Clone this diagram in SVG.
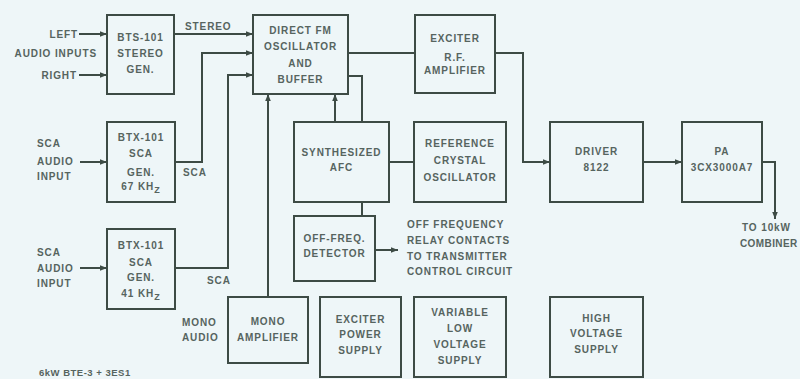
<svg xmlns="http://www.w3.org/2000/svg" width="800" height="379" viewBox="0 0 800 379">
<defs>
<marker id="arr" viewBox="0 0 10 10" refX="10" refY="5" markerWidth="7" markerHeight="7" markerUnits="userSpaceOnUse" orient="auto">
<path d="M0,1 L10,5 L0,9 z" fill="#3d4b45"/>
</marker>
<style>
.box{fill:none;stroke:#3d4b45;stroke-width:2}
.ln{fill:none;stroke:#3d4b45;stroke-width:2}
.a{marker-end:url(#arr)}
text{font-family:"Liberation Sans",Arial,sans-serif;font-weight:bold;font-size:10px;fill:#56645f;letter-spacing:0.9px}
.c{text-anchor:middle}
.r{text-anchor:end}
</style>
</defs>
<rect width="800" height="379" fill="#eef6f8"/>

<g id="connectors">
<path class="ln a" d="M79,34 H107"/>
<path class="ln a" d="M79,75 H107"/>
<path class="ln a" d="M174,34 H253"/>
<path class="ln a" d="M175,162 H202 V53 H253"/>
<path class="ln a" d="M175,268 H228 V75 H253"/>
<path class="ln a" d="M80,162 H107"/>
<path class="ln a" d="M80,268 H107"/>
<path class="ln a" d="M268,297 V94"/>
<path class="ln a" d="M335,122 V94"/>
<path class="ln" d="M348,76 H362 V122"/>
<path class="ln" d="M362,202 V216"/>
<path class="ln" d="M389,162 H414"/>
<path class="ln" d="M348,53 H415"/>
<path class="ln a" d="M495,53 H523 V162 H550"/>
<path class="ln a" d="M643,162 H682"/>
<path class="ln a" d="M762,162 H775 V219"/>
<path class="ln a" d="M375,250 H398"/>
</g>

<g id="labels">
<text class="r" x="78" y="38">LEFT</text>
<text class="r" x="97" y="57">AUDIO INPUTS</text>
<text class="r" x="77" y="79">RIGHT</text>
<text x="185" y="30">STEREO</text>
<text x="37" y="147">SCA</text>
<text x="37" y="165">AUDIO</text>
<text x="37" y="180">INPUT</text>
<text x="183" y="176">SCA</text>
<text x="37" y="256">SCA</text>
<text x="37" y="272">AUDIO</text>
<text x="37" y="287">INPUT</text>
<text x="207" y="284">SCA</text>
<text x="182" y="326">MONO</text>
<text x="182" y="341">AUDIO</text>
<text x="407" y="228">OFF FREQUENCY</text>
<text x="407" y="244">RELAY CONTACTS</text>
<text x="407" y="260">TO TRANSMITTER</text>
<text x="407" y="275">CONTROL CIRCUIT</text>
<text x="742" y="231">TO 10kW</text>
<text x="740" y="247" style="letter-spacing:0.4px">COMBINER</text>
<text x="39" y="376" style="font-size:9.5px;letter-spacing:0.5px">6kW BTE-3 + 3ES1</text>
</g>

<g id="bts101">
<rect class="box" x="107" y="15" width="67" height="79"/>
<text class="c" x="140.5" y="41">BTS-101</text>
<text class="c" x="140.5" y="57">STEREO</text>
<text class="c" x="140.5" y="73">GEN.</text>
</g>

<g id="btx67">
<rect class="box" x="107" y="122" width="68" height="80"/>
<text class="c" x="141" y="141">BTX-101</text>
<text class="c" x="141" y="157">SCA</text>
<text class="c" x="141" y="176">GEN.</text>
<text class="c" x="141" y="190">67 KH<tspan font-size="9" dy="3">Z</tspan></text>
</g>

<g id="btx41">
<rect class="box" x="107" y="229" width="68" height="80"/>
<text class="c" x="141" y="249">BTX-101</text>
<text class="c" x="141" y="266">SCA</text>
<text class="c" x="141" y="281">GEN.</text>
<text class="c" x="141" y="297">41 KH<tspan font-size="9" dy="3">Z</tspan></text>
</g>

<g id="directfm">
<rect class="box" x="253" y="15" width="95" height="79"/>
<text class="c" x="300.5" y="34">DIRECT FM</text>
<text class="c" x="300.5" y="50">OSCILLATOR</text>
<text class="c" x="300.5" y="67">AND</text>
<text class="c" x="300.5" y="83">BUFFER</text>
</g>

<g id="exciter">
<rect class="box" x="415" y="15" width="80" height="78"/>
<text class="c" x="455" y="42">EXCITER</text>
<text class="c" x="455" y="61">R.F.</text>
<text class="c" x="455" y="74">AMPLIFIER</text>
</g>

<g id="afc">
<rect class="box" x="294" y="122" width="95" height="80"/>
<text class="c" x="341.5" y="156">SYNTHESIZED</text>
<text class="c" x="341.5" y="171">AFC</text>
</g>

<g id="refosc">
<rect class="box" x="414" y="122" width="92" height="80"/>
<text class="c" x="460" y="147">REFERENCE</text>
<text class="c" x="460" y="164">CRYSTAL</text>
<text class="c" x="460" y="181">OSCILLATOR</text>
</g>

<g id="driver">
<rect class="box" x="550" y="122" width="93" height="80"/>
<text class="c" x="596.5" y="155">DRIVER</text>
<text class="c" x="596.5" y="171">8122</text>
</g>

<g id="pa">
<rect class="box" x="682" y="122" width="80" height="80"/>
<text class="c" x="722" y="155">PA</text>
<text class="c" x="722" y="171">3CX3000A7</text>
</g>

<g id="detector">
<rect class="box" x="294" y="216" width="81" height="65"/>
<text class="c" x="334.5" y="242">OFF-FREQ.</text>
<text class="c" x="334.5" y="257">DETECTOR</text>
</g>

<g id="monoamp">
<rect class="box" x="228" y="297" width="80" height="66"/>
<text class="c" x="268" y="325">MONO</text>
<text class="c" x="268" y="341">AMPLIFIER</text>
</g>

<g id="exciterpower">
<rect class="box" x="320" y="297" width="81" height="80"/>
<text class="c" x="360.5" y="323">EXCITER</text>
<text class="c" x="360.5" y="338">POWER</text>
<text class="c" x="360.5" y="354">SUPPLY</text>
</g>

<g id="lowvoltage">
<rect class="box" x="414" y="297" width="92" height="80"/>
<text class="c" x="460" y="316">VARIABLE</text>
<text class="c" x="460" y="332">LOW</text>
<text class="c" x="460" y="348">VOLTAGE</text>
<text class="c" x="460" y="364">SUPPLY</text>
</g>

<g id="highvoltage">
<rect class="box" x="550" y="297" width="93" height="80"/>
<text class="c" x="596.5" y="322">HIGH</text>
<text class="c" x="596.5" y="337">VOLTAGE</text>
<text class="c" x="596.5" y="353">SUPPLY</text>
</g>
</svg>
